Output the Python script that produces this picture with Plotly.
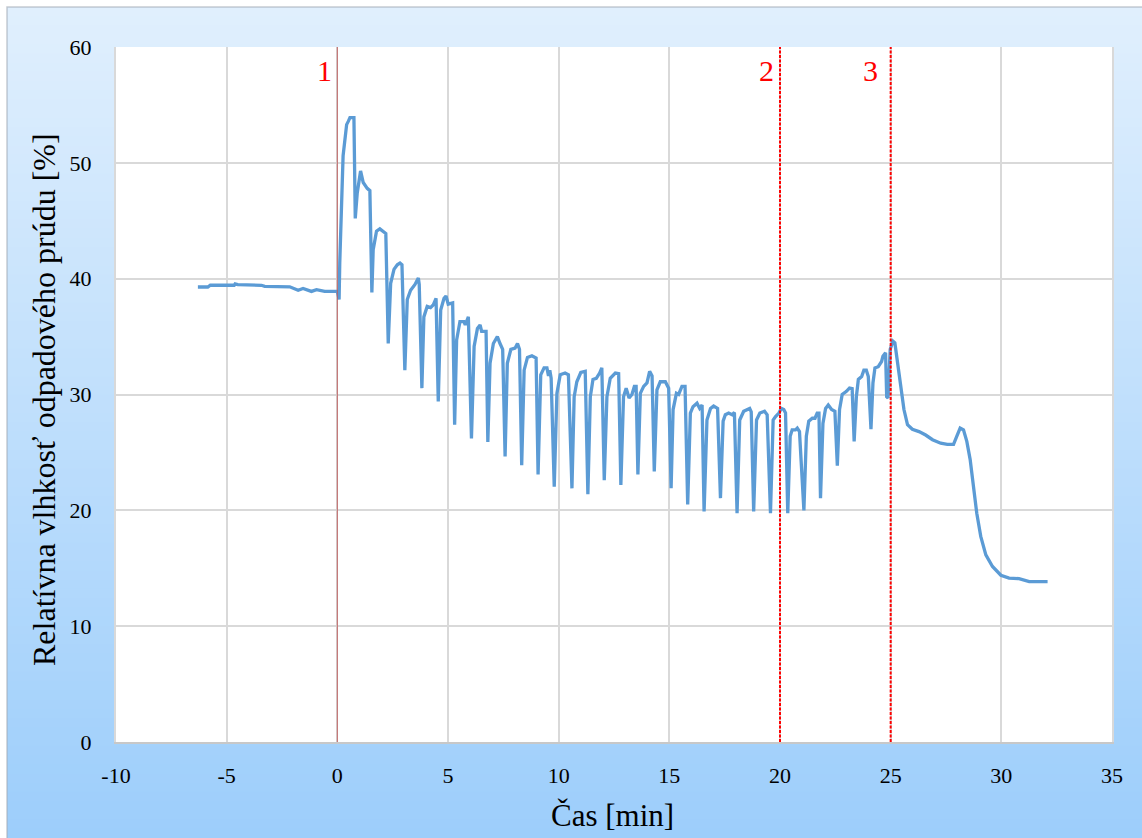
import plotly.graph_objects as go

# ---------------- data ----------------
time_min = [
    -6.3, -5.85, -5.74, -4.66, -4.62, -4.5, -3.43, -3.28, -2.15, -1.92, -1.77, -1.55, -1.32, -1.17,
    -0.94, -0.71, -0.57, -0.04,
    0.0, 0.08, 0.11, 0.26, 0.42, 0.5, 0.57, 0.75, 0.81, 0.9, 1.05, 1.17, 1.35, 1.47,
    1.56, 1.62, 1.77, 1.92, 2.07, 2.19, 2.3, 2.41, 2.56, 2.71, 2.83, 2.92,
    3.05, 3.16, 3.31, 3.51, 3.66, 3.7, 3.82, 3.91, 4.06, 4.21, 4.34, 4.46,
    4.56, 4.67, 4.82, 4.91, 5.01, 5.21, 5.3, 5.39, 5.54, 5.72, 5.78, 5.92,
    6.06, 6.18, 6.33, 6.45, 6.52, 6.72, 6.8, 6.9, 7.05, 7.23, 7.35, 7.47,
    7.58, 7.68, 7.84, 8.03, 8.14, 8.23, 8.33, 8.44, 8.59, 8.79, 8.98,
    9.07, 9.19, 9.34, 9.47, 9.54, 9.6, 9.66, 9.8, 9.92, 10.07, 10.29, 10.44,
    10.6, 10.7, 10.82, 11.0, 11.2, 11.32, 11.43, 11.55, 11.7, 11.85, 11.95,
    12.06, 12.18, 12.33, 12.56, 12.71, 12.81, 12.93, 13.05, 13.18, 13.31, 13.42, 13.5,
    13.58, 13.69, 13.84, 13.99, 14.11, 14.22, 14.32, 14.44, 14.59, 14.82, 14.97,
    15.08, 15.17, 15.32, 15.42, 15.57, 15.71, 15.83, 15.95, 16.07, 16.25, 16.37, 16.48,
    16.57, 16.7, 16.86, 17.0, 17.18, 17.31, 17.43, 17.53, 17.68, 17.84, 17.94,
    18.06, 18.18, 18.36, 18.52, 18.63, 18.7, 18.81, 18.94, 19.09, 19.3, 19.42,
    19.57, 19.69, 19.8, 19.95, 20.06, 20.17, 20.25, 20.35, 20.46, 20.55, 20.7, 20.78, 20.88,
    21.08, 21.19, 21.3, 21.46, 21.58, 21.68, 21.76, 21.83, 21.94, 22.06, 22.18, 22.33, 22.48,
    22.59, 22.69, 22.81, 22.99, 23.14, 23.26, 23.35, 23.45, 23.54, 23.69, 23.79, 23.9, 23.99,
    24.11, 24.2, 24.29, 24.44, 24.59, 24.65, 24.77, 24.82, 24.88, 24.98, 25.1, 25.19,
    25.33, 25.45, 25.6, 25.76, 25.98, 26.28, 26.58, 26.89, 27.26, 27.56, 27.84,
    27.99, 28.14, 28.29, 28.44, 28.59, 28.74, 28.89, 29.07, 29.3, 29.6, 29.98,
    30.35, 30.8, 31.26, 32.09,
]

rel_humidity = [
    39.28, 39.28, 39.43, 39.43, 39.55, 39.48, 39.43, 39.34, 39.3, 39.1, 39.0, 39.15, 39.0, 38.9,
    39.05, 39.0, 38.9, 38.9,
    38.9, 38.2, 41.4, 50.6, 53.3, 53.6, 53.9, 53.9, 45.2, 47.4, 49.3, 48.3, 47.8, 47.6,
    38.8, 42.5, 44.1, 44.3, 44.1, 43.9, 34.4, 39.6, 40.8, 41.2, 41.35, 41.2,
    32.1, 38.2, 39.0, 39.5, 40.05, 39.5, 30.55, 36.7, 37.6, 37.5, 37.75, 38.3,
    29.4, 37.3, 38.3, 38.5, 37.8, 37.9, 27.4, 34.7, 36.3, 36.3, 36.0, 36.7,
    26.2, 34.15, 35.7, 36.0, 35.45, 35.45, 25.9, 32.7, 34.4, 35.0, 34.4, 33.9,
    24.65, 32.7, 33.9, 34.0, 34.4, 33.9, 23.9, 32.1, 33.2, 33.35, 33.15,
    23.1, 31.7, 32.3, 32.3, 31.6, 32.1, 31.4, 22.05, 30.1, 31.7, 31.85, 31.7,
    21.9, 29.8, 31.1, 31.9, 32.0, 21.4, 29.8, 31.3, 31.4, 31.85, 32.3,
    22.6, 29.8, 31.4, 31.85, 31.8, 22.2, 29.8, 30.55, 29.7, 30.0, 30.7, 30.7,
    23.1, 30.1, 30.7, 31.0, 32.0, 31.6, 23.35, 30.4, 31.1, 31.1, 30.55,
    21.9, 28.7, 30.1, 30.0, 30.7, 30.7, 20.5, 28.4, 28.95, 29.25, 28.8, 29.1,
    19.9, 27.8, 28.8, 29.0, 28.8, 21.05, 27.7, 28.25, 28.4, 28.25, 28.45,
    19.75, 27.8, 28.55, 28.7, 28.8, 28.5, 19.9, 27.8, 28.4, 28.55, 28.25,
    19.75, 27.8, 28.1, 28.4, 28.8, 28.7, 28.4, 19.75, 26.4, 26.95, 26.95, 27.1, 26.8,
    20.0, 26.4, 27.7, 27.95, 27.95, 28.4, 28.4, 21.05, 27.5, 28.8, 29.1, 28.7, 28.55,
    23.85, 28.7, 30.0, 30.25, 30.55, 30.5, 25.95, 29.8, 31.3, 31.55, 32.1, 32.1, 31.55,
    27.0, 31.0, 32.3, 32.4, 32.85, 33.3, 33.6, 29.8, 29.7, 33.9, 34.6, 34.45,
    32.4, 30.7, 28.7, 27.4, 27.0, 26.8, 26.5, 26.1, 25.8, 25.7, 25.7,
    26.4, 27.1, 26.95, 25.95, 24.4, 22.05, 19.75, 17.75, 16.15, 15.15, 14.4,
    14.15, 14.1, 13.85, 13.85,
]

event_times = [0, 20, 25]
event_labels = ["1", "2", "3"]
x_ticks = list(range(-10, 36, 5))
y_ticks = list(range(0, 61, 10))

x_title = "Čas [min]"
y_title = "Relatívna vlhkosť odpadového prúdu [%]"

# ---------------- style ----------------
FONT = "Liberation Serif"
W, H = 1142, 838
ML, MR, MT, MB = 116, 30, 47, 96
PW, PH = W - ML - MR, H - MT - MB


def px_to_paper_x(px):
    return (px - ML) / PW


def px_to_paper_y(py):
    return (H - MB - py) / PH


fig = go.Figure()

fig.add_trace(go.Scatter(
    x=time_min, y=rel_humidity, mode="lines",
    line=dict(color="#5b9bd5", width=3.3),
    hoverinfo="x+y", showlegend=False,
))

shapes = []
# gradient background card
top_c = (224, 239, 253)
bot_c = (157, 206, 251)
n = 90
card_top, card_bot = 7, H
card_left, card_right = 7, W
for i in range(n):
    f = i / (n - 1)
    c = tuple(round(top_c[k] + (bot_c[k] - top_c[k]) * f) for k in range(3))
    y0 = card_top + (card_bot - card_top) * i / n
    y1 = card_top + (card_bot - card_top) * (i + 1) / n + 1
    shapes.append(dict(
        type="rect", xref="paper", yref="paper", layer="below",
        x0=px_to_paper_x(card_left), x1=px_to_paper_x(card_right),
        y0=px_to_paper_y(min(y1, H)), y1=px_to_paper_y(y0),
        fillcolor="rgb(%d,%d,%d)" % c, line=dict(width=0),
    ))
# card outline (shadow-ish)
shapes.append(dict(
    type="rect", xref="paper", yref="paper", layer="below",
    x0=px_to_paper_x(card_left), x1=px_to_paper_x(card_right + 5),
    y0=px_to_paper_y(H + 5), y1=px_to_paper_y(card_top),
    fillcolor="rgba(0,0,0,0)", line=dict(color="rgba(160,170,180,0.6)", width=1.5),
))
# white plot area
shapes.append(dict(
    type="rect", xref="paper", yref="paper", layer="below",
    x0=0, x1=1, y0=0, y1=1, fillcolor="white", line=dict(width=0),
))

# event lines
event_styles = [
    dict(color="rgba(190,90,90,0.9)", width=1, dash="solid"),
    dict(color="#ff0000", width=2, dash="3px,1.5px"),
    dict(color="#ff0000", width=2, dash="3px,1.5px"),
]
for t, st in zip(event_times, event_styles):
    shapes.append(dict(
        type="line", xref="x", yref="y", x0=t, x1=t, y0=0, y1=60,
        line=st, layer="above",
    ))

label_shift = [-13, -14, -20]
annotations = []
for t, lab, sh in zip(event_times, event_labels, label_shift):
    annotations.append(dict(
        x=t, y=58, xref="x", yref="y", text=lab, showarrow=False,
        xanchor="center", yanchor="middle", xshift=sh,
        font=dict(family=FONT, size=30, color="#ff0000"),
    ))

annotations.append(dict(
    x=px_to_paper_x(612), y=px_to_paper_y(815), xref="paper", yref="paper",
    text=x_title, showarrow=False, xanchor="center", yanchor="middle",
    font=dict(family=FONT, size=31, color="black"),
))
annotations.append(dict(
    x=px_to_paper_x(44), y=px_to_paper_y(400), xref="paper", yref="paper",
    text=y_title, showarrow=False, xanchor="center", yanchor="middle",
    textangle=-90,
    font=dict(family=FONT, size=32, color="black"),
))

fig.update_layout(
    width=W, height=H,
    margin=dict(l=ML, r=MR, t=MT, b=MB, pad=0),
    paper_bgcolor="white",
    plot_bgcolor="rgba(0,0,0,0)",
    shapes=shapes,
    annotations=annotations,
    showlegend=False,
    font=dict(family=FONT, size=22, color="black"),
)

fig.update_xaxes(
    range=[-10, 35], tickvals=x_ticks, ticktext=[str(v) for v in x_ticks],
    showgrid=True, gridcolor="#d9d9d9", gridwidth=2,
    zeroline=False, showline=True, linecolor="#c8c8c8", linewidth=2,
    ticks="outside", ticklen=13, tickcolor="rgba(0,0,0,0)",
    tickfont=dict(family=FONT, size=22, color="black"),
)
fig.update_yaxes(
    range=[0, 60], tickvals=y_ticks, ticktext=[str(v) for v in y_ticks],
    showgrid=True, gridcolor="#d9d9d9", gridwidth=2,
    zeroline=False, showline=True, linecolor="#d9d9d9", linewidth=2, mirror=True,
    ticks="outside", ticklen=18, tickcolor="rgba(0,0,0,0)",
    tickfont=dict(family=FONT, size=22, color="black"),
)

fig.write_html("out.html")
